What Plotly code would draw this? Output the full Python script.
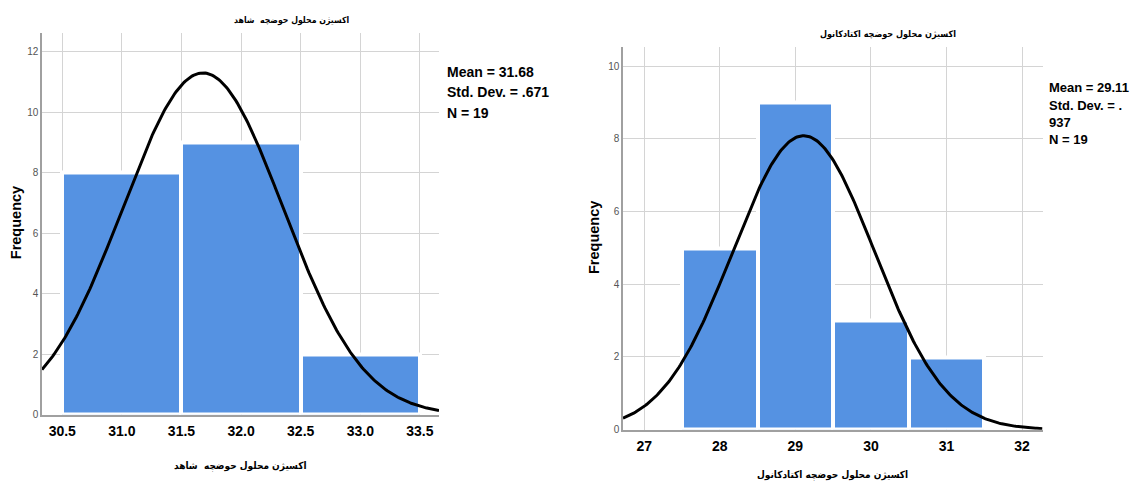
import numpy as np
import plotly.graph_objects as go

# ---- data ----
left_bins = [31.0, 32.0, 33.0]
left_counts = [8, 9, 2]
left_mean, left_sd, left_n = 31.68, 0.671, 19
left_title = "اکسیژن محلول حوضچه  شاهد"
left_stats = ["Mean = 31.68", "Std. Dev. = .671", "N = 19"]

right_bins = [28, 29, 30, 31]
right_counts = [5, 9, 3, 2]
right_mean, right_sd, right_n = 29.11, 0.937, 19
right_title = "اکسیژن محلول حوضچه اکتادکانول"
right_stats = ["Mean = 29.11", "Std. Dev. = .", "937", "N = 19"]

y_label = "Frequency"

W, H = 1131, 486
BAR = "#5592E2"
GRID = "#d4d4d4"
AXL = "#a0a0a0"
SANS = "Liberation Sans, Arial"
AR = "DejaVu Sans Condensed, DejaVu Sans"


def normal_curve(mean, sd, n, lo, hi, width=1.0):
    xs = np.linspace(lo, hi, 300)
    ys = n * width / (sd * np.sqrt(2 * np.pi)) * np.exp(-0.5 * ((xs - mean) / sd) ** 2)
    return xs, ys


def px(x):
    return x / W


def py(y):
    return 1 - y / H


L_XR = [30.33, 33.66]
R_XR = [26.72, 32.27]
L_YR = [0, 12.63]
R_YR = [0, 10.52]

fig = go.Figure()
fig.add_trace(go.Bar(x=left_bins, y=left_counts, width=1.0, marker=dict(color=BAR, line=dict(color="white", width=4)),
                     xaxis="x", yaxis="y", showlegend=False))
lx, ly = normal_curve(left_mean, left_sd, left_n, L_XR[0], L_XR[1])
fig.add_trace(go.Scatter(x=lx, y=ly, mode="lines", line=dict(color="black", width=3),
                         xaxis="x", yaxis="y", showlegend=False))

fig.add_trace(go.Bar(x=right_bins, y=right_counts, width=1.0, marker=dict(color=BAR, line=dict(color="white", width=4)),
                     xaxis="x2", yaxis="y2", showlegend=False))
rx, ry = normal_curve(right_mean, right_sd, right_n, R_XR[0], R_XR[1])
fig.add_trace(go.Scatter(x=rx, y=ry, mode="lines", line=dict(color="black", width=3),
                         xaxis="x2", yaxis="y2", showlegend=False))

xtick_font = dict(family=SANS, size=14, color="black", weight="bold")
ytick_font = dict(family=SANS, size=10, color="#555555")

common_x = dict(showgrid=True, gridcolor=GRID, gridwidth=1, showline=True, linecolor=AXL, linewidth=1.5,
                zeroline=False, ticks="", tickfont=xtick_font, layer="above traces", ticklabelstandoff=3)
common_y = dict(showgrid=True, gridcolor=GRID, gridwidth=1, showline=True, linecolor=AXL, linewidth=1.5,
                zeroline=False, ticks="", tickfont=ytick_font, dtick=2, tick0=0)

fig.update_layout(
    width=W, height=H,
    margin=dict(l=0, r=0, t=0, b=0),
    paper_bgcolor="white", plot_bgcolor="white",
    xaxis=dict(domain=[px(42), px(439)], range=L_XR, tick0=30.5, dtick=0.5, tickformat=".1f",
               anchor="y", **common_x),
    yaxis=dict(domain=[py(420), py(33)], range=L_YR, anchor="x", **common_y),
    xaxis2=dict(domain=[px(623), px(1042.5)], range=R_XR, tick0=27, dtick=1, anchor="y2", **common_x),
    yaxis2=dict(domain=[py(435), py(48)], range=R_YR, anchor="x2", **common_y),
    bargap=0,
)

ann = []
# titles
ann.append(dict(text=left_title, x=px(291), y=py(21), font=dict(family=AR, size=8.7, color="black", weight="bold")))
ann.append(dict(text=right_title, x=px(888), y=py(35), font=dict(family=AR, size=9, color="black", weight="bold")))
ann.append(dict(text=left_title, x=px(240), y=py(472), font=dict(family=AR, size=10, color="black", weight="bold")))
ann.append(dict(text=right_title, x=px(832), y=py(481), font=dict(family=AR, size=10, color="black", weight="bold")))
# y titles
ann.append(dict(text=y_label, x=px(16), y=py(226), textangle=-90,
                font=dict(family=SANS, size=14.5, color="black", weight="bold")))
ann.append(dict(text=y_label, x=px(594), y=py(241), textangle=-90,
                font=dict(family=SANS, size=14.5, color="black", weight="bold")))
# stats
for i, s in enumerate(left_stats):
    ann.append(dict(text=s, x=px(445), y=py(73 + 20.5 * i), xanchor="left",
                    font=dict(family=SANS, size=14, color="black", weight="bold")))
for i, s in enumerate(right_stats):
    ann.append(dict(text=s, x=px(1047), y=py(89 + 17.5 * i), xanchor="left",
                    font=dict(family=SANS, size=13, color="black", weight="bold")))

for a in ann:
    a.setdefault("xanchor", "center")
    a.update(xref="paper", yref="paper", yanchor="middle", showarrow=False)
fig.update_layout(annotations=ann)

fig.write_html("out.html", config={"displayModeBar": False},
               post_script="document.body.style.margin='0';")
